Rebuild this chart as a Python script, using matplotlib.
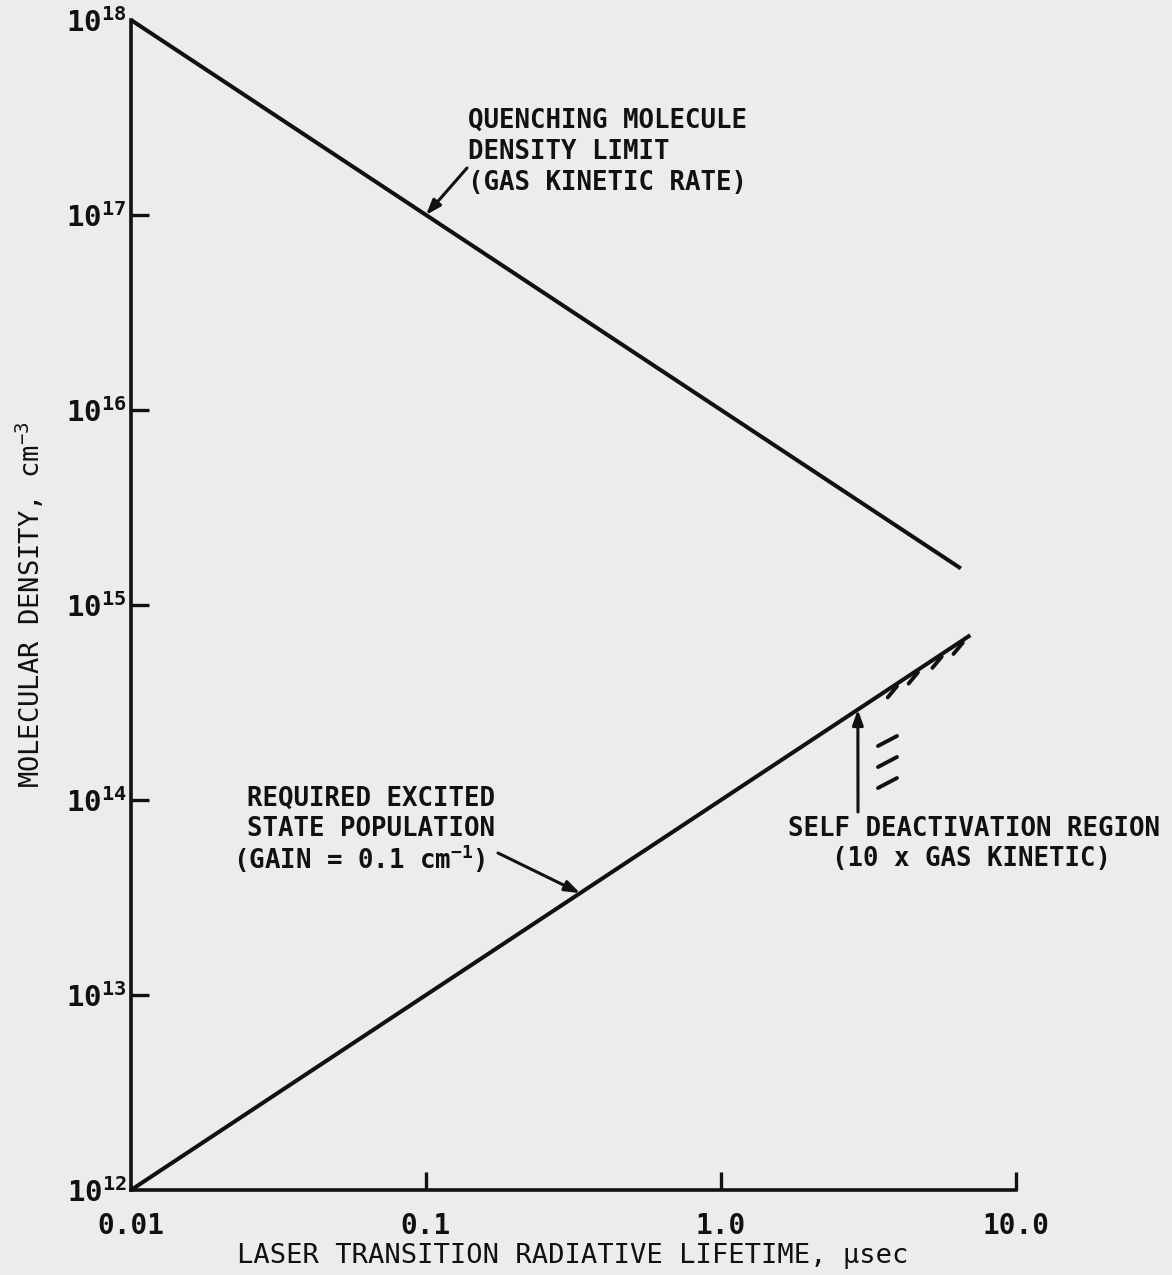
import matplotlib.pyplot as plt

# curve end points (lifetime in usec, density in cm^-3)
quench_tau = [0.01, 6.5]
quench_density = [1e18, 1.54e15]
required_tau = [0.01, 7.0]
required_density = [1e12, 7e14]

x_ticks = [0.01, 0.1, 1.0, 10.0]
x_tick_labels = ["0.01", "0.1", "1.0", "10.0"]
y_ticks = [1e12, 1e13, 1e14, 1e15, 1e16, 1e17, 1e18]
y_tick_labels = [r"$\mathbf{10}^{\mathbf{%d}}$" % e for e in range(12, 19)]

# short hatch strokes under the required line
hatch_tau = [3.95, 4.65, 5.6, 6.6]

FONT = ["DejaVu Sans Mono", "DejaVu Sans"]
plt.rcParams["font.family"] = FONT
plt.rcParams["mathtext.fontset"] = "custom"
plt.rcParams["mathtext.rm"] = "DejaVu Sans Mono"
plt.rcParams["mathtext.it"] = "DejaVu Sans Mono"
plt.rcParams["mathtext.bf"] = "DejaVu Sans Mono:bold"

W, H = 1172, 1275
BG = "#ececea"
INK = "#111111"


def px(x, y):
    # image pixel (top-left origin) -> figure fraction
    return (x / W, 1 - y / H)


fig = plt.figure(figsize=(W / 100, H / 100), dpi=100, facecolor=BG)
ax = fig.add_axes([131 / W, 1 - 1190 / H, (1016 - 131) / W, (1190 - 20) / H])
ax.set_facecolor(BG)
ax.set_xscale("log")
ax.set_yscale("log")
ax.set_xlim(0.01, 10)
ax.set_ylim(1e12, 1e18)

ax.plot(quench_tau, quench_density, color=INK, lw=2.9, clip_on=False,
        solid_capstyle="butt")
ax.plot(required_tau, required_density, color=INK, lw=2.9, clip_on=False,
        solid_capstyle="butt")

# hatching of the self deactivation region
slope = required_density[1] / required_tau[1]
for t in hatch_tau:
    n = slope * t
    ax.plot([t, t * 0.93], [n * 0.97, n * 0.85], color=INK, lw=2.8,
            solid_capstyle="round")
for i in range(3):
    x0, y0 = px(878, 746 + 21 * i)
    x1, y1 = px(897, 736 + 21 * i)
    fig.lines.append(plt.Line2D([x0, x1], [y0, y1], transform=fig.transFigure,
                                color=INK, lw=2.8, solid_capstyle="round"))

for side in ["top", "right"]:
    ax.spines[side].set_visible(False)
for side in ["left", "bottom"]:
    ax.spines[side].set_linewidth(2.6)
    ax.spines[side].set_color(INK)

ax.xaxis.set_major_locator(plt.FixedLocator(x_ticks))
ax.xaxis.set_major_formatter(plt.FixedFormatter(x_tick_labels))
ax.yaxis.set_major_locator(plt.FixedLocator(y_ticks))
ax.yaxis.set_major_formatter(plt.FixedFormatter(y_tick_labels))
ax.xaxis.set_minor_locator(plt.NullLocator())
ax.yaxis.set_minor_locator(plt.NullLocator())
ax.tick_params(axis="both", direction="in", length=13, width=2.4, color=INK,
               labelsize=20, labelcolor=INK)
ax.tick_params(axis="x", pad=16)
ax.tick_params(axis="y", pad=3, labelsize=21)
for lab in ax.get_xticklabels():
    lab.set_fontweight("bold")
# the end ticks sit on the other spine in the original
ax.xaxis.get_major_ticks()[0].tick1line.set_visible(False)
ax.yaxis.get_major_ticks()[0].tick1line.set_visible(False)
ax.yaxis.get_major_ticks()[-1].tick1line.set_visible(False)

fig.text(*px(573, 1256), "LASER TRANSITION RADIATIVE LIFETIME, \u03bcsec",
         ha="center", va="center", fontsize=19.5, color=INK)
fig.text(*px(30, 605), r"MOLECULAR DENSITY, cm$^{-3}$", rotation=90,
         ha="center", va="center", fontsize=19.5, color=INK)

txt = dict(fontsize=18.5, color=INK, fontweight="bold")
arrow = dict(arrowstyle="-|>,head_length=0.9,head_width=0.32", color=INK, lw=2.2,
             shrinkA=0, shrinkB=0)

# quenching limit label
for i, s in enumerate(["QUENCHING MOLECULE", "DENSITY LIMIT", "(GAS KINETIC RATE)"]):
    fig.text(*px(468, 121 + 31 * i), s, ha="left", va="center", **txt)
ax.annotate("", xy=(0.1, 1e17), xytext=px(467, 168), textcoords="figure fraction",
            arrowprops=arrow)

# required population label
for i, s in enumerate(["REQUIRED EXCITED", "STATE POPULATION"]):
    fig.text(*px(247, 799 + 30 * i), s, ha="left", va="center", **txt)
fig.text(*px(233, 859), r"(GAIN = 0.1 cm$^{\mathbf{-1}}$)", ha="left", va="center", **txt)
t_req = 0.333
ax.annotate("", xy=(t_req, slope * t_req), xytext=px(498, 853),
            textcoords="figure fraction", arrowprops=arrow)

# self deactivation label
fig.text(*px(974, 829), "SELF DEACTIVATION REGION", ha="center", va="center", **txt)
fig.text(*px(972, 859), "(10 x GAS KINETIC)", ha="center", va="center", **txt)
t_sd = 2.91
ax.annotate("", xy=(t_sd, slope * t_sd), xytext=px(858, 812),
            textcoords="figure fraction", arrowprops=arrow)

fig.savefig("out.png", dpi=100, facecolor=BG)
